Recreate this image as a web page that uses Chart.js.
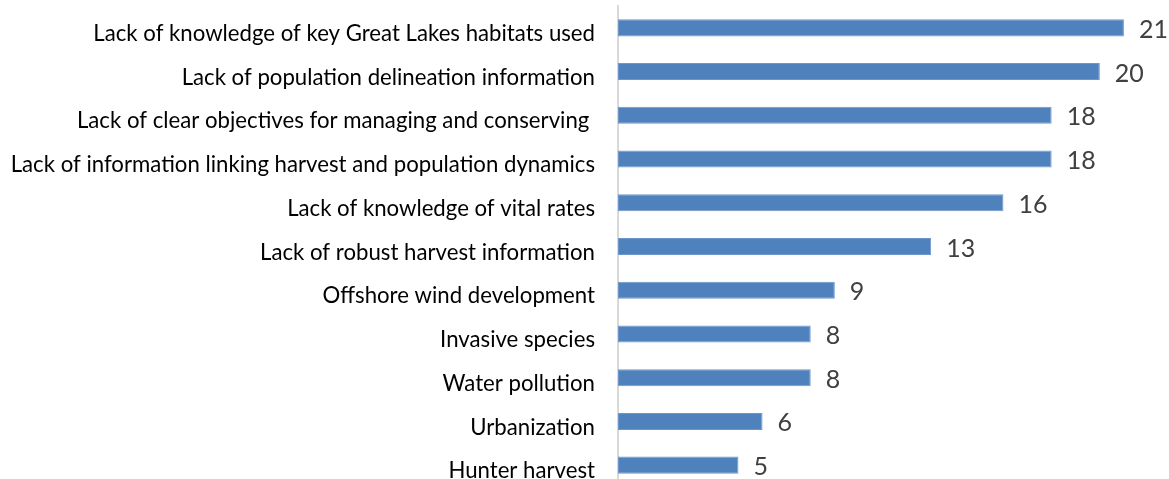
<!DOCTYPE html>
<html>
<head>
<meta charset="utf-8">
<script src="https://cdn.jsdelivr.net/npm/chart.js@4/dist/chart.umd.min.js"></script>
<style>
  html, body { margin: 0; padding: 0; background: #fff; overflow: hidden; }
  #wrap { position: relative; width: 1169px; height: 487px; }
</style>
</head>
<body>
<div id="wrap"><canvas id="chart"></canvas></div>
<script>
// Categories and counts
const categories = [
    'Lack of knowledge of key Great Lakes habitats used',
    'Lack of population delineation information',
    'Lack of clear objectives for managing and conserving ',
    'Lack of information linking harvest and population dynamics',
    'Lack of knowledge of vital rates',
    'Lack of robust harvest information',
    'Offshore wind development',
    'Invasive species',
    'Water pollution',
    'Urbanization',
    'Hunter harvest'
];
const counts = [21, 20, 18, 18, 16, 13, 9, 8, 8, 6, 5];

const labelFont = 'Lato, "Liberation Sans", sans-serif';

// draws the number just past the end of each bar
const valueLabels = {
    id: 'valueLabels',
    afterDatasetsDraw(chart) {
        const ctx = chart.ctx;
        const meta = chart.getDatasetMeta(0);
        ctx.save();
        ctx.font = '25px ' + labelFont;
        ctx.fillStyle = '#404040';
        ctx.textAlign = 'left';
        ctx.textBaseline = 'middle';
        meta.data.forEach((bar, i) => {
            ctx.fillText(String(counts[i]), bar.x + 15, bar.y + 2);
        });
        ctx.restore();
    }
};

new Chart(document.getElementById('chart'), {
    type: 'bar',
    data: {
        labels: categories,
        datasets: [{
            data: counts,
            backgroundColor: '#4f81bd',
            borderColor: '#6d97cb',
            borderWidth: 1,
            borderSkipped: false,
            categoryPercentage: 1,
            barPercentage: 0.39
        }]
    },
    options: {
        indexAxis: 'y',
        responsive: true,
        maintainAspectRatio: false,
        animation: false,
        layout: { padding: { top: 6, right: 21, bottom: 0, left: 0 } },
        plugins: {
            legend: { display: false },
            tooltip: { enabled: false }
        },
        scales: {
            x: {
                display: false,
                min: 0,
                max: 22
            },
            y: {
                afterFit(scale) {
                    scale.width = 618;
                    scale.paddingTop = 0;
                    scale.paddingBottom = 0;
                },
                grid: { display: false, drawTicks: false },
                border: { color: '#d9d9d9', width: 2 },
                ticks: {
                    padding: 23,
                    labelOffset: 6,
                    color: '#000',
                    font: { family: labelFont, size: 22.2 }
                }
            }
        }
    },
    plugins: [valueLabels]
});
</script>
</body>
</html>
